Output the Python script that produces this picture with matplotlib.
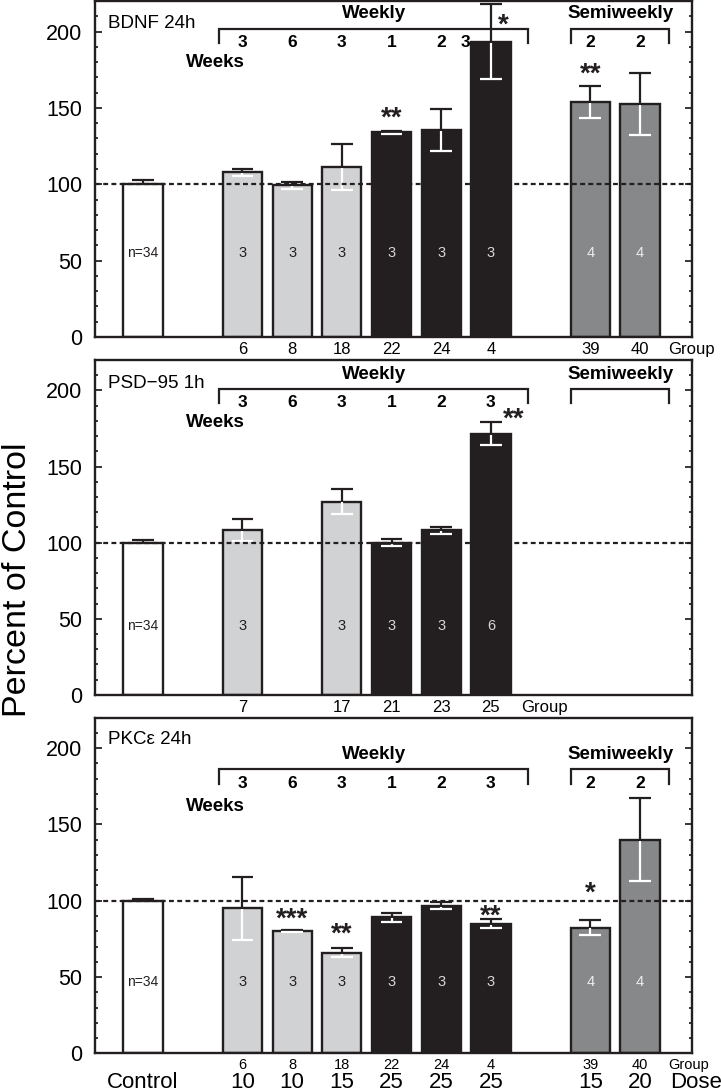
import numpy as np
import matplotlib
matplotlib.use('Agg')
import matplotlib.pyplot as plt

plt.rcParams['font.family'] = ['Liberation Sans', 'DejaVu Sans']

nan = np.nan

# Slot layout shared by all panels ('' = empty slot)
regimen = ['control', '', 'light', 'light', 'light', 'dark', 'dark', 'dark', '', 'semi', 'semi']
weeks = ['', '', '3', '6', '3', '1', '2', '3', '', '2', '2']
doses = ['Control', '', '10', '10', '15', '25', '25', '25', '', '15', '20']

# BDNF 24h
bdnf_groups = ['', '', '6', '8', '18', '22', '24', '4', '', '39', '40']
bdnf_mean = [100, nan, 107.7, 99.2, 111.3, 134.0, 135.5, 193.4, nan, 153.6, 152.6]
bdnf_sem = [2.5, nan, 2.2, 2.6, 15.0, 1.0, 14.0, 24.4, nan, 10.5, 20.5]
bdnf_n = ['n=34', '', '3', '3', '3', '3', '3', '3', '', '4', '4']
bdnf_sig = ['', '', '', '', '', '**', '', '*', '', '**', '']

# PSD-95 1h
psd_groups = ['', '', '7', '', '17', '21', '23', '25', '', '', '']
psd_mean = [100, nan, 108.2, nan, 127.0, 99.8, 108.0, 171.6, nan, nan, nan]
psd_sem = [2.0, nan, 7.3, nan, 8.2, 2.3, 2.5, 7.5, nan, nan, nan]
psd_n = ['n=34', '', '3', '', '3', '3', '3', '6', '', '', '']
psd_sig = ['', '', '', '', '', '', '', '**', '', '', '']

# PKCe 24h
pkc_groups = ['', '', '6', '8', '18', '22', '24', '4', '', '39', '40']
pkc_mean = [100, nan, 95.1, 80.4, 66.0, 89.2, 96.8, 85.0, nan, 82.4, 140.0]
pkc_sem = [0.8, nan, 20.7, 0.7, 2.8, 3.0, 2.4, 2.8, nan, 5.0, 27.4]
pkc_n = ['n=34', '', '3', '3', '3', '3', '3', '3', '', '4', '4']
pkc_sig = ['', '', '', '***', '**', '', '', '**', '', '*', '']

FACE = {'control': 'white', 'light': '#d1d2d4', 'dark': '#231f20', 'semi': '#87888a'}
NCOL = {'control': '#231f20', 'light': '#231f20', 'dark': '#d6d6d6', 'semi': '#ececec'}


def draw_panel(ax, title, mean, sem, nlab, sig, lay):
    x = np.arange(len(mean))
    mean = np.asarray(mean, dtype=float)
    sem = np.asarray(sem, dtype=float)
    cap = 0.22
    for i in x:
        if np.isnan(mean[i]):
            continue
        kind = regimen[i]
        ax.bar(i, mean[i], width=0.79, color=FACE[kind], edgecolor='#231f20',
               linewidth=1.7, zorder=2)
        m, e = mean[i], sem[i]
        ax.vlines(i, m, m + e, color='#231f20', lw=1.6, zorder=3)
        ax.hlines(m + e, i - cap, i + cap, color='#231f20', lw=1.6, zorder=3)
        if kind != 'control':
            ax.vlines(i, m - e, m - 0.6, color='white', lw=1.6, zorder=3)
            ax.hlines(m - e, i - cap, i + cap, color='white', lw=1.6, zorder=3)
        ax.text(i, lay['n_y'], nlab[i], ha='center', va='center',
                fontsize=10 if i == 0 else 10.5, color=NCOL[kind], zorder=4)
        if sig[i]:
            sx = i + lay.get('sig_dx', {}).get(i, 0)
            ax.text(sx, lay['sig_y'][i], sig[i], ha='center', va='center',
                    fontsize=20, fontweight='bold', color='#231f20', zorder=4)

    ax.axhline(100, color='#231f20', lw=1.6, ls=(0, (2.2, 1.5)), zorder=4)

    ax.text(-0.7, lay['title_y'], title, ha='left', va='center', fontsize=13.5)

    # regimen brackets
    by, bd = lay['bracket_y'], lay['bracket_drop']
    for x1, x2, name in [(1.53, 7.75, 'Weekly'), (8.62, 10.59, 'Semiweekly')]:
        ax.plot([x1, x1, x2, x2], [by - bd, by, by, by - bd], color='#231f20',
                lw=1.6, solid_joinstyle='miter', clip_on=False)
        ax.text((x1 + x2) / 2, lay['label_y'], name, ha='center', va='center',
                fontsize=13.5, fontweight='bold')
    for i, w in enumerate(weeks):
        if not w or (i >= 8 and not lay['semi_weeks']):
            continue
        wx = i + lay.get('week_dx', {}).get(i, 0)
        ax.text(wx, lay['weeks_y'], w, ha='center', va='center', fontsize=12.5,
                fontweight='bold')
    ax.text(1.45, lay['weeks_word_y'], 'Weeks', ha='center', va='center',
            fontsize=13.5, fontweight='bold')

    ax.set_xlim(-0.966, 11.046)
    ax.set_ylim(0, 220)
    ax.set_xticks([])
    ax.set_yticks([0, 50, 100, 150, 200])
    ax.set_yticks(np.arange(0, 221, 10), minor=True)
    ax.tick_params(axis='y', which='both', direction='in', right=True,
                   labelright=False, labelsize=15.5, pad=9, width=1.1)
    ax.tick_params(axis='y', which='major', length=5)
    ax.tick_params(axis='y', which='minor', length=2.5)
    for sp in ax.spines.values():
        sp.set_linewidth(1.7)
        sp.set_color('#231f20')


def xlabels(ax, labels, dy, size, tail, tail_x):
    for i, g in enumerate(labels):
        if g:
            ax.annotate(g, xy=(i, 0), xycoords=('data', 'axes fraction'),
                        xytext=(0, dy), textcoords='offset points', ha='center',
                        va='top', fontsize=size, annotation_clip=False)
    ax.annotate(tail, xy=(tail_x, 0), xycoords=('data', 'axes fraction'),
                xytext=(0, dy), textcoords='offset points', ha='left',
                va='top', fontsize=size, annotation_clip=False)


fig = plt.figure(figsize=(7.21, 10.92), dpi=100)
ax1 = fig.add_axes([0.1318, 0.6914, 0.828, 0.3077])
ax2 = fig.add_axes([0.1318, 0.3636, 0.828, 0.3068])
ax3 = fig.add_axes([0.1318, 0.0354, 0.828, 0.3075])

lay1 = dict(n_y=55, title_y=205, bracket_y=201.8, bracket_drop=9.2, label_y=211.5,
            weeks_y=192.6, weeks_word_y=179.7, semi_weeks=True,
            week_dx={7: -0.52}, sig_dx={7: 0.24},
            sig_y={5: 143, 7: 204, 9: 172})
lay2 = dict(n_y=45, title_y=204.4, bracket_y=201, bracket_drop=9.2, label_y=210.5,
            weeks_y=192.3, weeks_word_y=179.2, semi_weeks=False,
            sig_dx={7: 0.46}, sig_y={7: 181})
lay3 = dict(n_y=47, title_y=205.4, bracket_y=186, bracket_drop=9.6, label_y=195.6,
            weeks_y=177, weeks_word_y=162, semi_weeks=True,
            sig_y={3: 87.5, 4: 78, 7: 89.5, 9: 104.5})

draw_panel(ax1, 'BDNF 24h', bdnf_mean, bdnf_sem, bdnf_n, bdnf_sig, lay1)
draw_panel(ax2, 'PSD\u221295 1h', psd_mean, psd_sem, psd_n, psd_sig, lay2)
draw_panel(ax3, 'PKC\u03b5 24h', pkc_mean, pkc_sem, pkc_n, pkc_sig, lay3)

xlabels(ax1, bdnf_groups, -3.5, 12, 'Group', 10.56)
xlabels(ax2, psd_groups, -3.5, 12, 'Group', 7.6)
xlabels(ax3, pkc_groups, -3, 10.5, 'Group', 10.56)
xlabels(ax3, doses, -13.5, 16, 'Dose', 10.6)

fig.text(0.024, 0.469, 'Percent of Control', rotation=90, ha='center',
         va='center', fontsize=24.5)

fig.savefig('out.png', dpi=100)
